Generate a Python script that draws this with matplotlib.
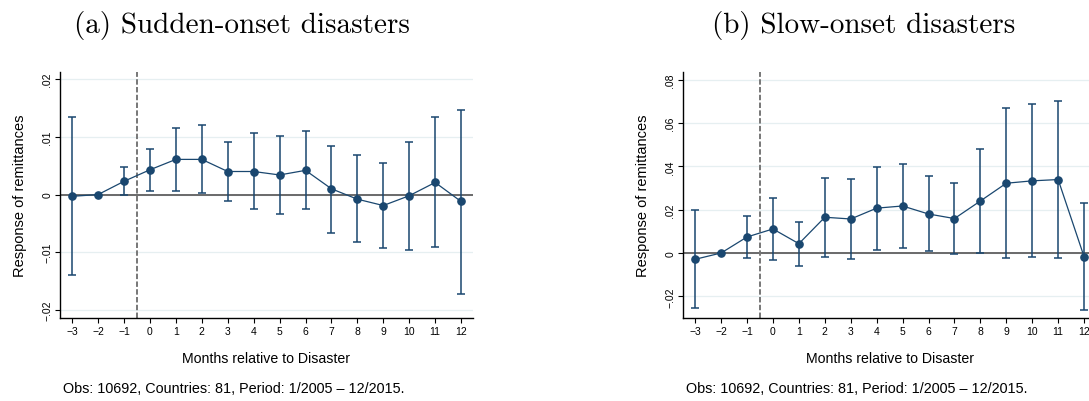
import numpy as np
import matplotlib
matplotlib.use("Agg")
import matplotlib.pyplot as plt

# Event-study estimates: months relative to disaster onset
months = list(range(-3, 13))

# (a) sudden-onset disasters
sudden_coef = [-0.0003, 0.0, 0.0023, 0.0043, 0.0061, 0.0061, 0.0040, 0.0040,
               0.0034, 0.0042, 0.0010, -0.0008, -0.0019, -0.0002, 0.0021, -0.0012]
sudden_hi = [0.0134, 0.0, 0.0047, 0.0079, 0.0115, 0.0120, 0.0092, 0.0106,
             0.0102, 0.0110, 0.0085, 0.0068, 0.0054, 0.0092, 0.0135, 0.0147]
sudden_lo = [-0.0140, 0.0, 0.0000, 0.0007, 0.0006, 0.0002, -0.0011, -0.0025,
             -0.0034, -0.0025, -0.0066, -0.0083, -0.0092, -0.0096, -0.0091, -0.0172]
sudden_yticks = [-0.02, -0.01, 0.0, 0.01, 0.02]
sudden_yticklabels = ["\u2212.02", "\u2212.01", "0", ".01", ".02"]

# (b) slow-onset disasters
slow_coef = [-0.0029, 0.0, 0.0074, 0.0111, 0.0043, 0.0165, 0.0157, 0.0207,
             0.0217, 0.0180, 0.0159, 0.0240, 0.0322, 0.0333, 0.0339, -0.0017]
slow_hi = [0.0197, 0.0, 0.0171, 0.0253, 0.0143, 0.0348, 0.0342, 0.0396,
           0.0411, 0.0354, 0.0324, 0.0479, 0.0669, 0.0686, 0.0701, 0.0231]
slow_lo = [-0.0254, 0.0, -0.0023, -0.0031, -0.0059, -0.0017, -0.0026, 0.0015,
           0.0023, 0.0008, -0.0005, 0.0002, -0.0023, -0.0017, -0.0022, -0.0265]
slow_yticks = [-0.02, 0.0, 0.02, 0.04, 0.06, 0.08]
slow_yticklabels = ["\u2212.02", "0", ".02", ".04", ".06", ".08"]

xticklabels = [str(m).replace("-", "\u2212") for m in months]
note = "Obs: 10692, Countries: 81, Period: 1/2005 \u2013 12/2015."

navy = "#1a476f"
sans = ["Liberation Sans", "DejaVu Sans"]
plt.rcParams["font.family"] = sans

fig = plt.figure(figsize=(10.89, 4.02), dpi=100)


def draw_panel(ax, coef, lo, hi, yticks, yticklabels, ylim):
    x = np.array(months)
    coef = np.array(coef)
    err = np.vstack([coef - np.array(lo), np.array(hi) - coef])

    for y in yticks:
        ax.axhline(y, color="#e6eff1", lw=0.9, zorder=0)
    ax.axhline(0, color="#6a6a6a", lw=1.4, zorder=1)
    ax.axvline(-0.5, color="#777777", lw=1.4, dashes=(2.8, 1.2), zorder=1)

    ax.errorbar(x, coef, yerr=err, fmt="none", ecolor=navy, elinewidth=1.1,
                capsize=2.6, capthick=1.1, zorder=2)
    ax.plot(x, coef, color=navy, lw=0.9, marker="o", markersize=5.2,
            markerfacecolor=navy, markeredgecolor=navy, zorder=3)

    ax.set_xlim(-3.47, 12.46)
    ax.set_ylim(*ylim)
    ax.set_xticks(months)
    ax.set_xticklabels(xticklabels, fontsize=7.5)
    ax.set_yticks(yticks)
    ax.set_yticklabels(yticklabels, fontsize=7.5, rotation=90, va="center")
    ax.tick_params(axis="both", length=3.5, width=0.8, color="black", pad=2)
    for side in ("top", "right"):
        ax.spines[side].set_visible(False)
    for side in ("left", "bottom"):
        ax.spines[side].set_linewidth(1.0)
    ax.set_ylabel("Response of remittances", fontsize=10.5, labelpad=11)
    ax.set_xlabel("Months relative to Disaster", fontsize=10.2, labelpad=11)
    ax.text(0.007, -0.285, note, transform=ax.transAxes, fontsize=10.4,
            ha="left", va="center")


ax1 = fig.add_axes([60 / 1089, 1 - 319 / 402, 413 / 1089, 245.7 / 402])
draw_panel(ax1, sudden_coef, sudden_lo, sudden_hi,
           sudden_yticks, sudden_yticklabels, (-0.0214, 0.0212))

ax2 = fig.add_axes([683 / 1089, 1 - 319 / 402, 413 / 1089, 245.7 / 402])
draw_panel(ax2, slow_coef, slow_lo, slow_hi,
           slow_yticks, slow_yticklabels, (-0.0300, 0.0834))

fig.text(242 / 1089, 1 - 25 / 402, "(a) Sudden-onset disasters",
         family="cmr10", fontsize=21, ha="center", va="center")
fig.text(864 / 1089, 1 - 25 / 402, "(b) Slow-onset disasters",
         family="cmr10", fontsize=21, ha="center", va="center")

fig.savefig("out.png", dpi=100)
